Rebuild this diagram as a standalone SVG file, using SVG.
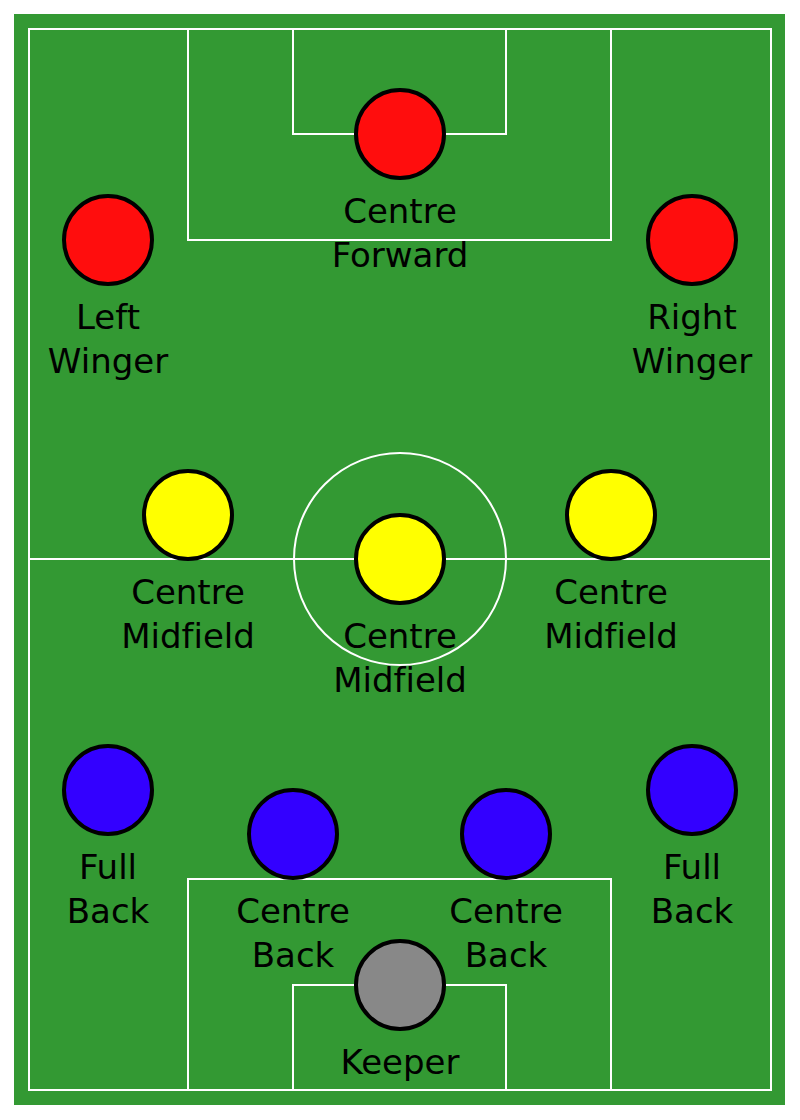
<svg xmlns="http://www.w3.org/2000/svg" width="800" height="1120" viewBox="0 0 800 1120">
<style>
.line{fill:none;stroke:#ffffff;stroke-width:2}
.p{stroke:#000000;stroke-width:4}
.fw{fill:#ff0d0d}
.md{fill:#ffff00}
.df{fill:#3300ff}
.gk{fill:#888888}
text{font-family:"DejaVu Sans","Liberation Sans",sans-serif;font-size:34px;fill:#000000;text-anchor:middle;font-variant-ligatures:none}
</style>
<rect x="0" y="0" width="800" height="1120" fill="#ffffff"/>
<g id="pitch">
<rect x="14" y="14" width="771" height="1091" fill="#339933"/>
<rect class="line" x="29" y="29" width="742" height="1061"/>
<line class="line" x1="29" y1="559" x2="771" y2="559"/>
<circle class="line" cx="400" cy="559" r="106"/>
<rect class="line" x="188" y="29" width="423" height="211"/>
<rect class="line" x="293" y="29" width="213" height="105"/>
<rect class="line" x="188" y="879" width="423" height="211"/>
<rect class="line" x="293" y="985" width="213" height="105"/>
</g>
<g id="connectors"></g>
<g id="centre-forward"><circle class="p fw" cx="400" cy="134" r="44"/><text x="400" y="223">Centre</text><text x="400" y="267">Forward</text></g>
<g id="left-winger"><circle class="p fw" cx="108" cy="240" r="44"/><text x="108" y="329">Left</text><text x="108" y="373">Winger</text></g>
<g id="right-winger"><circle class="p fw" cx="692" cy="240" r="44"/><text x="692" y="329">Right</text><text x="692" y="373">Winger</text></g>
<g id="left-midfield"><circle class="p md" cx="188" cy="515" r="44"/><text x="188" y="604">Centre</text><text x="188" y="648">Midfield</text></g>
<g id="centre-midfield"><circle class="p md" cx="400" cy="559" r="44"/><text x="400" y="648">Centre</text><text x="400" y="692">Midfield</text></g>
<g id="right-midfield"><circle class="p md" cx="611" cy="515" r="44"/><text x="611" y="604">Centre</text><text x="611" y="648">Midfield</text></g>
<g id="left-back"><circle class="p df" cx="108" cy="790" r="44"/><text x="108" y="879">Full</text><text x="108" y="923">Back</text></g>
<g id="right-back"><circle class="p df" cx="692" cy="790" r="44"/><text x="692" y="879">Full</text><text x="692" y="923">Back</text></g>
<g id="left-centre-back"><circle class="p df" cx="293" cy="834" r="44"/><text x="293" y="923">Centre</text><text x="293" y="967">Back</text></g>
<g id="right-centre-back"><circle class="p df" cx="506" cy="834" r="44"/><text x="506" y="923">Centre</text><text x="506" y="967">Back</text></g>
<g id="keeper"><circle class="p gk" cx="400" cy="985" r="44"/><text x="400" y="1074">Keeper</text></g>
</svg>
